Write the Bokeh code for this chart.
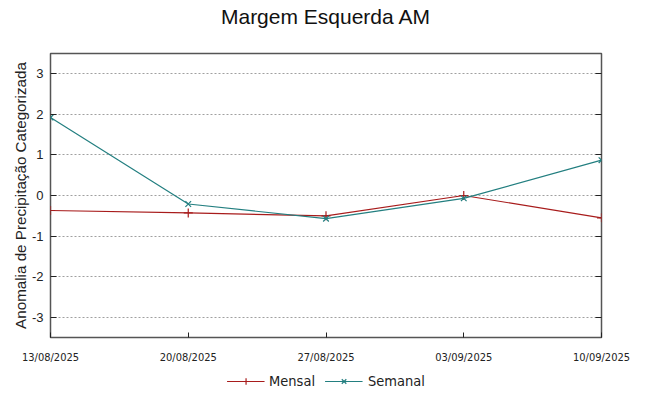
from datetime import datetime
from bokeh.plotting import figure
from bokeh.layouts import column
from bokeh.models import (Range1d, FixedTicker, DatetimeTickFormatter, LinearAxis,
                          Legend, LegendItem, ColumnDataSource, Title)
from bokeh.embed import file_html
from bokeh.resources import INLINE

# ---- data ----
dates = ["13/08/2025", "20/08/2025", "27/08/2025", "03/09/2025", "10/09/2025"]
mensal = [-0.37, -0.43, -0.50, 0.00, -0.55]
semanal = [1.92, -0.21, -0.57, -0.07, 0.87]
y_ticks = [-3, -2, -1, 0, 1, 2, 3]
title_text = "Margem Esquerda AM"
y_label = "Anomalia de Precipitação Categorizada"
series_names = ["Mensal", "Semanal"]

x = [datetime.strptime(d, "%d/%m/%Y") for d in dates]
src = ColumnDataSource(dict(x=x, mensal=mensal, semanal=semanal))

RED = "#a81c1c"
TEAL = "#237f80"
NARROW = "'DejaVu Sans Condensed', 'Liberation Sans', sans-serif"
FRAME_W, FRAME_H = 551, 284

p = figure(frame_width=FRAME_W, frame_height=FRAME_H, output_backend="svg",
           toolbar_location=None, x_axis_type="datetime", title_location=None,
           min_border_left=50, min_border_right=46, min_border_top=52, min_border_bottom=30)
p.x_range = Range1d(x[0], x[-1])
p.y_range = Range1d(-3.5, 3.5)

# spacer (closest to frame) then the real title
p.add_layout(Title(text=" ", text_font_size="2px", standoff=20), "above")
p.add_layout(Title(text=title_text, align="center", text_font="Liberation Sans",
                   text_font_size="21px", text_font_style="normal",
                   text_color="#111111", standoff=4), "above")

p.outline_line_color = "#555555"
p.outline_line_width = 1.5
p.background_fill_color = "white"
p.border_fill_color = "white"

fmt = "%d/%m/%Y"
date_fmt = DatetimeTickFormatter(days=fmt, months=fmt, years=fmt, hours=fmt,
                                 minutes=fmt, seconds=fmt, milliseconds=fmt,
                                 minsec=fmt, hourmin=fmt)

# x axis
xa = p.xaxis[0]
xa.ticker = FixedTicker(ticks=[d.timestamp() * 1000 for d in x])
xa.formatter = date_fmt
xa.major_label_text_font = NARROW
xa.major_label_text_font_size = "11px"
xa.major_label_text_color = "#222222"
xa.major_label_standoff = 13
xa.major_tick_in = 5
xa.major_tick_out = 0
xa.minor_tick_line_color = None
xa.axis_line_color = None
xa.major_tick_line_color = "#222222"

# y axis
ya = p.yaxis[0]
ya.ticker = FixedTicker(ticks=y_ticks)
ya.major_label_overrides = {t: str(t) for t in y_ticks}
ya.major_label_text_font = "Liberation Sans"
ya.major_label_text_font_size = "13px"
ya.major_label_text_color = "#222222"
ya.major_label_standoff = 7
ya.major_tick_in = 6
ya.major_tick_out = 0
ya.minor_tick_line_color = None
ya.axis_line_color = None
ya.major_tick_line_color = "#222222"
ya.axis_label = y_label
ya.axis_label_text_font = "Liberation Sans"
ya.axis_label_text_font_size = "15.2px"
ya.axis_label_text_font_style = "normal"
ya.axis_label_text_color = "#222222"
ya.axis_label_standoff = 0

# mirror ticks on right
ra = LinearAxis(ticker=FixedTicker(ticks=y_ticks), major_label_text_color=None,
                major_tick_in=6, major_tick_out=0, minor_tick_line_color=None,
                axis_line_color=None, major_tick_line_color="#222222",
                major_label_standoff=0)
ra.major_label_overrides = {t: "" for t in y_ticks}
p.add_layout(ra, "right")

p.xgrid.grid_line_color = None
p.ygrid.ticker = FixedTicker(ticks=y_ticks)
p.ygrid.grid_line_color = "#a0a0a0"
p.ygrid.grid_line_dash = "2 2"
p.ygrid.grid_line_width = 1

p.line("x", "mensal", source=src, color=RED, line_width=1.2)
p.scatter("x", "mensal", source=src, marker="cross", size=9, line_color=RED, line_width=1.2)
p.line("x", "semanal", source=src, color=TEAL, line_width=1.2)
p.scatter("x", "semanal", source=src, marker="x", size=8, line_color=TEAL, line_width=1.2)

# ---- legend strip below the chart ----
p2 = figure(width=647, height=28, output_backend="svg", toolbar_location=None,
            x_axis_type="datetime", x_axis_location=None, y_axis_location=None,
            min_border=0, outline_line_color=None)
p2.grid.visible = False
q1 = p2.line("x", "mensal", source=src, color=RED, line_width=1.2, visible=False)
s1 = p2.scatter("x", "mensal", source=src, marker="cross", size=9, line_color=RED,
                line_width=1.2, visible=False)
q2 = p2.line("x", "semanal", source=src, color=TEAL, line_width=1.2, visible=False)
s2 = p2.scatter("x", "semanal", source=src, marker="x", size=8, line_color=TEAL,
                line_width=1.2, visible=False)
legend = Legend(items=[LegendItem(label=series_names[0], renderers=[q1, s1]),
                       LegendItem(label=series_names[1], renderers=[q2, s2])],
                orientation="horizontal", location="center",
                border_line_color=None, background_fill_alpha=0,
                inactive_fill_alpha=0,
                label_text_font=NARROW, label_text_font_size="14.5px",
                label_text_color="#222222", glyph_width=38, glyph_height=16,
                label_height=16, spacing=10, padding=0, margin=0)
p2.add_layout(legend, "center")

layout = column(p, p2, spacing=0)
open("out.html", "w").write(file_html(layout, INLINE))
